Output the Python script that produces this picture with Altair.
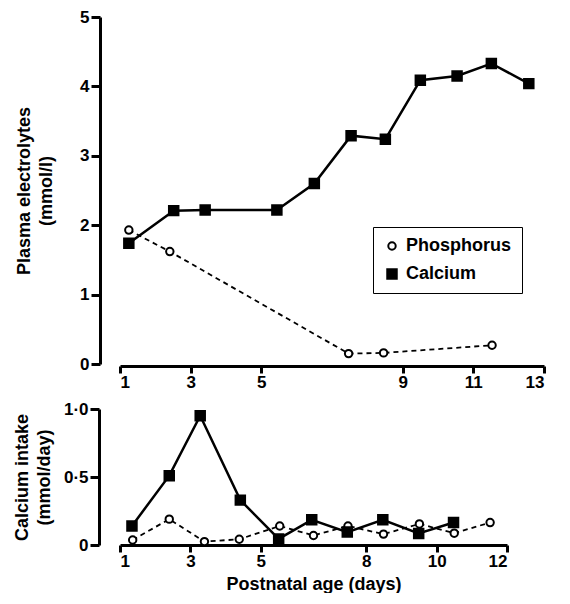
import altair as alt
import pandas as pd

series_names = ["Phosphorus", "Calcium"]

# Upper panel: plasma electrolytes (mmol/l)
plasma_ca_day = [1.25, 2.52, 3.41, 5.44, 6.5, 7.54, 8.51, 9.5, 10.54, 11.51, 12.57]
plasma_ca = [1.74, 2.21, 2.22, 2.22, 2.6, 3.29, 3.24, 4.09, 4.15, 4.33, 4.04]
plasma_p_day = [1.25, 2.41, 7.47, 8.46, 11.53]
plasma_p = [1.93, 1.62, 0.15, 0.16, 0.27]

# Lower panel: calcium intake (mmol/day)
intake_ca_day = [1.34, 2.4, 3.28, 4.42, 5.51, 6.45, 7.46, 8.47, 9.49, 10.48]
intake_ca = [0.14, 0.51, 0.95, 0.33, 0.045, 0.185, 0.095, 0.185, 0.085, 0.165]
intake_p_day = [1.36, 2.4, 3.4, 4.39, 5.54, 6.5, 7.48, 8.49, 9.51, 10.5, 11.52]
intake_p = [0.037, 0.19, 0.025, 0.042, 0.14, 0.07, 0.14, 0.08, 0.155, 0.087, 0.165]

top_x_ticks = [1, 3, 5, 9, 11, 13]
top_y_ticks = [0, 1, 2, 3, 4, 5]
bottom_x_ticks = [1, 3, 5, 8, 10, 12]
bottom_y_ticks = [0, 0.5, 1.0]

FONT = "Liberation Sans"


def make_df(p_day, p_val, ca_day, ca_val):
    rows = [{"day": d, "value": v, "series": "Phosphorus"} for d, v in zip(p_day, p_val)]
    rows += [{"day": d, "value": v, "series": "Calcium"} for d, v in zip(ca_day, ca_val)]
    return pd.DataFrame(rows)


def axis_common(**kw):
    base = dict(
        grid=False, domainColor="black", domainWidth=3, tickColor="black", tickWidth=3,
        labelFont=FONT, labelFontSize=17, labelFontWeight="bold", labelColor="black",
        titleFont=FONT, titleFontSize=18, titleFontWeight="bold", titleColor="black",
    )
    base.update(kw)
    return alt.Axis(**base)


def panel(df, xdom, xticks, xtitle, x_offset, ydom, yticks, ytitle, y_offset, y_title_pad,
          ylabel_expr, w, h, legend):
    x = alt.X("day:Q", scale=alt.Scale(domain=xdom, nice=False, zero=False),
              axis=axis_common(values=xticks, title=xtitle, offset=x_offset, tickSize=7,
                               labelPadding=1, titlePadding=6, format="d"))
    y = alt.Y("value:Q", scale=alt.Scale(domain=ydom, nice=False, zero=False),
              axis=axis_common(values=yticks, title=ytitle, offset=y_offset, tickSize=9,
                               labelPadding=2, titlePadding=y_title_pad, titleLineHeight=22,
                               labelExpr=ylabel_expr))
    base = alt.Chart(df).encode(x=x, y=y)
    ca_line = base.transform_filter("datum.series == 'Calcium'").mark_line(
        color="black", strokeWidth=2.5)
    p_line = base.transform_filter("datum.series == 'Phosphorus'").mark_line(
        color="black", strokeWidth=1.8, strokeDash=[5, 4])
    pts = base.mark_point(filled=True, strokeWidth=2, opacity=1).encode(
        shape=alt.Shape("series:N", scale=alt.Scale(domain=series_names, range=["circle", "square"]),
                        legend=legend),
        fill=alt.Fill("series:N", scale=alt.Scale(domain=series_names, range=["white", "black"]),
                      legend=legend),
        stroke=alt.Stroke("series:N", scale=alt.Scale(domain=series_names, range=["black", "black"]),
                          legend=legend),
        size=alt.Size("series:N", scale=alt.Scale(domain=series_names, range=[55, 90]),
                      legend=legend),
    )
    return alt.layer(p_line, ca_line, pts).properties(width=w, height=h)


legend = alt.Legend(
    orient="none", legendX=253, legendY=210, title=None,
    strokeColor="black", fillColor="white", padding=10, rowPadding=10,
    labelFont=FONT, labelFontSize=18, labelFontWeight="bold", labelColor="black",
    symbolStrokeWidth=2, labelOffset=5,
)

top = panel(make_df(plasma_p_day, plasma_p, plasma_ca_day, plasma_ca),
            [1, 13], top_x_ticks, None, 2,
            [0, 5], top_y_ticks, ["Plasma electrolytes", "(mmol/l)"], 20, 24,
            "format(datum.value, 'd')", 424, 347, legend)

bottom = panel(make_df(intake_p_day, intake_p, intake_ca_day, intake_ca),
               [1, 12], bottom_x_ticks, "Postnatal age (days)", 0,
               [0, 1], bottom_y_ticks, ["Calcium intake", "(mmol/day)"], 21, 10,
               "datum.value == 0 ? '0' : replace(format(datum.value, '.1f'), '.', '·')",
               387, 136, None)

chart = alt.vconcat(top, bottom, spacing=10).resolve_scale(
    shape="independent", fill="independent", size="independent", stroke="independent"
).resolve_legend(
    shape="independent", fill="independent", size="independent", stroke="independent"
).properties(
    padding={"left": 5, "top": 0, "right": 0, "bottom": 0},
    background="white",
).configure_view(strokeWidth=0, stroke="transparent")

chart.save("out.html", embed_options={"renderer": "svg", "actions": False})
